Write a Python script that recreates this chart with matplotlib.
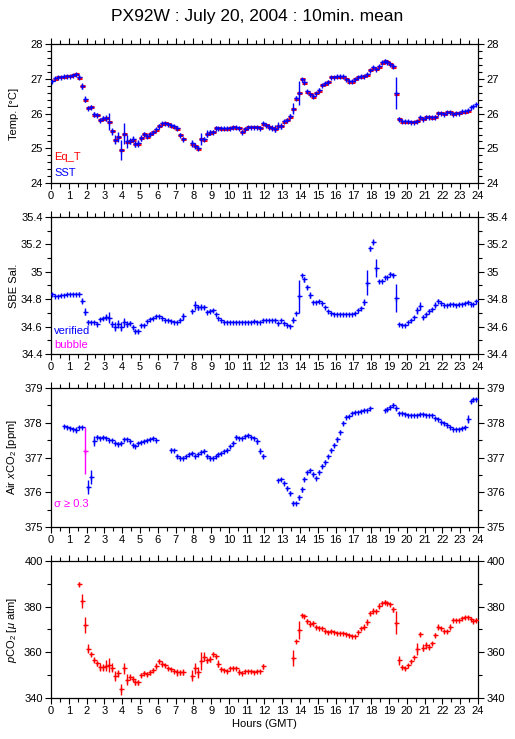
import numpy as np
import matplotlib
matplotlib.use('Agg')
import matplotlib.pyplot as plt
from matplotlib.ticker import MultipleLocator, FuncFormatter

plt.rcParams['font.family'] = ['Liberation Sans', 'DejaVu Sans']
plt.rcParams['mathtext.fontset'] = 'custom'
plt.rcParams['mathtext.rm'] = 'Liberation Sans'
plt.rcParams['mathtext.it'] = 'Liberation Sans:italic'

nan = np.nan

# --- 10-minute means, 144 per day (one row = 2 hours) ---
sst = [
    26.95, 27.03, 27.06, 27.07, 27.08, 27.09, 27.09, 27.12, 27.15, 27.06, 26.80, 26.43,
    26.18, 26.20, 25.98, 25.97, 25.83, 25.88, 25.88, 25.77, 25.50, 25.25, 25.33, 24.95,
    25.42, 25.20, 25.22, 25.27, 25.13, 25.15, 25.30, 25.42, 25.35, 25.42, 25.48, 25.55,
    25.65, 25.72, 25.73, 25.70, 25.68, 25.64, 25.58, 25.40, 25.28, nan, nan, 25.15,
    25.08, 25.00, 25.27, 25.27, 25.42, 25.47, 25.48, 25.60, 25.60, 25.58, 25.58, 25.58,
    25.60, 25.63, 25.62, 25.60, 25.48, 25.57, 25.63, 25.63, 25.62, 25.62, 25.60, 25.72,
    25.68, 25.63, 25.60, 25.57, 25.65, 25.65, 25.78, 25.82, 25.93, 26.15, 26.45, 26.60,
    27.00, 26.92, 26.65, 26.58, 26.50, 26.60, 26.68, 26.83, 26.88, 26.93, 27.07, 27.07,
    27.08, 27.08, 27.08, 27.00, 26.95, 26.95, 27.00, 27.07, 27.08, 27.10, 27.15, 27.27,
    27.35, 27.30, 27.38, 27.48, 27.53, 27.50, 27.45, 27.38, 26.60, 25.85, 25.78, 25.78,
    25.78, 25.77, 25.77, 25.80, 25.90, 25.85, 25.92, 25.92, 25.90, 25.92, 26.02, 26.02,
    26.00, 26.05, 26.05, 26.00, 26.02, 26.02, 26.07, 26.07, 26.10, 26.20, 26.23, 26.27,
]
sst_err = [
    0.03, 0.03, 0.03, 0.02, 0.02, 0.02, 0.02, 0.03, 0.03, 0.05, 0.10, 0.08,
    0.04, 0.05, 0.06, 0.06, 0.06, 0.06, 0.08, 0.25, 0.10, 0.13, 0.15, 0.28,
    0.30, 0.20, 0.08, 0.10, 0.08, 0.10, 0.08, 0.05, 0.05, 0.05, 0.03, 0.03,
    0.04, 0.03, 0.03, 0.03, 0.03, 0.03, 0.06, 0.05, 0.06, nan, nan, 0.10,
    0.08, 0.06, 0.17, 0.06, 0.10, 0.07, 0.04, 0.04, 0.03, 0.03, 0.03, 0.03,
    0.03, 0.03, 0.03, 0.03, 0.05, 0.04, 0.03, 0.03, 0.03, 0.03, 0.04, 0.04,
    0.03, 0.07, 0.07, 0.10, 0.10, 0.08, 0.05, 0.05, 0.06, 0.17, 0.06, 0.35,
    0.04, 0.06, 0.04, 0.03, 0.03, 0.04, 0.05, 0.03, 0.03, 0.03, 0.03, 0.02,
    0.02, 0.02, 0.02, 0.02, 0.02, 0.02, 0.03, 0.03, 0.03, 0.03, 0.03, 0.03,
    0.04, 0.04, 0.04, 0.04, 0.04, 0.04, 0.05, 0.07, 0.45, 0.06, 0.03, 0.03,
    0.02, 0.02, 0.02, 0.03, 0.04, 0.04, 0.03, 0.03, 0.03, 0.03, 0.03, 0.02,
    0.02, 0.03, 0.02, 0.02, 0.02, 0.02, 0.02, 0.02, 0.03, 0.03, 0.02, 0.02,
]
eq_t = [
    nan, 27.01, 27.05, 27.06, 27.07, 27.08, 27.08, 27.11, 27.14, 27.04, 26.79, 26.41,
    26.17, 26.19, 25.97, 25.95, 25.81, 25.86, 25.87, 25.76, 25.49, 25.24, 25.32, 24.94,
    25.41, 25.19, 25.21, 25.25, 25.12, 25.14, 25.29, 25.41, 25.34, 25.41, 25.47, 25.54,
    25.64, 25.71, 25.72, 25.69, 25.66, 25.62, 25.57, 25.39, 25.26, nan, nan, 25.14,
    25.06, 24.99, 25.26, 25.25, 25.41, 25.45, 25.46, 25.59, 25.59, 25.57, 25.57, 25.57,
    25.59, 25.61, 25.60, 25.59, 25.47, 25.56, 25.62, 25.62, 25.61, 25.61, 25.59, 25.70,
    25.67, 25.62, 25.59, 25.55, 25.64, 25.64, 25.77, 25.81, 25.92, 26.14, 26.43, 26.59,
    26.99, 26.90, 26.64, 26.56, 26.48, 26.59, 26.66, 26.82, 26.87, 26.92, 27.05, 27.06,
    27.07, 27.07, 27.07, 26.99, 26.93, 26.93, 26.99, 27.06, 27.07, 27.09, 27.13, 27.26,
    27.33, 27.28, 27.36, 27.47, 27.51, 27.48, 27.43, 27.36, 26.58, 25.84, 25.77, 25.77,
    25.77, 25.76, 25.76, 25.79, 25.89, 25.84, 25.91, 25.91, 25.88, 25.91, 26.01, 26.01,
    25.99, 26.04, 26.04, 25.99, 26.01, 26.01, 26.05, 26.06, 26.08, nan, nan, nan,
]
sal = [
    34.835, 34.825, 34.825, 34.83, 34.83, 34.835, 34.835, 34.84, 34.84, 34.84, 34.79, 34.71,
    34.635, 34.63, 34.63, 34.62, 34.655, 34.66, 34.67, 34.665, 34.62, 34.60, 34.62, 34.60,
    34.63, 34.62, 34.625, 34.60, 34.57, 34.57, 34.61, 34.61, 34.64, 34.655, 34.66, 34.675,
    34.68, 34.665, 34.65, 34.645, 34.64, 34.635, 34.63, 34.65, 34.675, nan, nan, 34.715,
    34.755, 34.74, 34.745, 34.745, 34.71, 34.715, 34.72, 34.69, 34.665, 34.645, 34.635, 34.635,
    34.635, 34.635, 34.635, 34.635, 34.635, 34.635, 34.635, 34.63, 34.64, 34.635, 34.635, 34.645,
    34.645, 34.645, 34.645, 34.65, 34.625, 34.645, 34.625, 34.615, 34.605, 34.65, 34.70, 34.82,
    34.975, 34.945, 34.89, 34.83, 34.78, 34.78, 34.785, 34.77, 34.745, 34.715, 34.70, 34.695,
    34.695, 34.695, 34.695, 34.695, 34.695, 34.695, 34.70, 34.72, 34.735, 34.78, 34.92, 35.17,
    35.22, 35.03, 34.93, 34.935, 34.965, 34.965, 34.985, 34.975, 34.81, 34.62, 34.61, 34.61,
    34.63, 34.65, 34.67, 34.72, 34.75, 34.67, 34.69, 34.715, 34.73, 34.76, 34.79, 34.775,
    34.755, 34.755, 34.765, 34.765, 34.76, 34.765, 34.765, 34.77, 34.78, 34.765, 34.765, 34.785,
]
sal_err = [
    0.004, 0.003, 0.003, 0.003, 0.003, 0.003, 0.003, 0.003, 0.003, 0.010, 0.020, 0.025,
    0.010, 0.006, 0.006, 0.010, 0.008, 0.010, 0.025, 0.040, 0.020, 0.030, 0.030, 0.030,
    0.030, 0.020, 0.015, 0.015, 0.015, 0.015, 0.010, 0.010, 0.010, 0.010, 0.008, 0.006,
    0.006, 0.006, 0.005, 0.004, 0.004, 0.004, 0.005, 0.010, 0.025, nan, nan, 0.015,
    0.035, 0.020, 0.020, 0.015, 0.010, 0.010, 0.010, 0.008, 0.006, 0.004, 0.003, 0.003,
    0.003, 0.003, 0.003, 0.003, 0.003, 0.003, 0.003, 0.003, 0.003, 0.003, 0.003, 0.005,
    0.005, 0.006, 0.006, 0.008, 0.012, 0.006, 0.005, 0.005, 0.005, 0.020, 0.010, 0.120,
    0.008, 0.020, 0.015, 0.020, 0.008, 0.005, 0.004, 0.004, 0.005, 0.005, 0.003, 0.003,
    0.003, 0.003, 0.003, 0.003, 0.003, 0.003, 0.003, 0.005, 0.008, 0.020, 0.090, 0.015,
    0.020, 0.065, 0.010, 0.010, 0.006, 0.006, 0.010, 0.015, 0.100, 0.008, 0.006, 0.006,
    0.006, 0.006, 0.008, 0.025, 0.030, 0.015, 0.010, 0.010, 0.008, 0.020, 0.008, 0.006,
    0.005, 0.004, 0.004, 0.004, 0.004, 0.004, 0.004, 0.005, 0.005, 0.004, 0.004, 0.006,
]
xco2 = [
    nan, nan, nan, nan, 377.92, 377.88, 377.85, 377.83, 377.80, 377.88, 377.88, 377.20,
    376.15, 376.45, 377.47, 377.60, 377.57, 377.58, 377.55, 377.50, 377.50, 377.43, 377.40, 377.42,
    377.52, 377.52, 377.47, 377.37, 377.33, 377.42, 377.45, 377.48, 377.50, 377.52, 377.55, 377.50,
    nan, nan, nan, nan, 377.23, 377.22, 377.05, 377.00, 377.00, 377.05, 377.10, 377.12,
    377.05, 377.10, 377.17, 377.20, 377.05, 376.98, 377.00, 377.05, 377.10, 377.13, 377.20, 377.22,
    377.32, 377.42, 377.58, 377.57, 377.57, 377.62, 377.65, 377.60, 377.55, 377.47, 377.20, 377.05,
    nan, nan, nan, nan, 376.35, 376.37, 376.27, 376.12, 375.98, 375.70, 375.68, 375.85,
    376.08, 376.37, 376.57, 376.63, 376.52, 376.42, 376.58, 376.75, 376.88, 377.03, 377.22, 377.37,
    377.52, 377.73, 378.00, 378.18, 378.20, 378.27, 378.30, 378.32, 378.35, 378.37, 378.38, 378.42,
    nan, nan, nan, nan, 378.37, 378.40, 378.45, 378.52, 378.42, 378.28, 378.27, 378.25,
    378.22, 378.22, 378.22, 378.22, 378.25, 378.25, 378.23, 378.23, 378.22, 378.15, 378.10, 378.03,
    377.98, 377.95, 377.88, 377.83, 377.82, 377.82, 377.85, 377.88, 378.10, 378.62, 378.68, 378.68,
]
xco2_err = [
    nan, nan, nan, nan, 0.03, 0.03, 0.02, 0.03, 0.07, 0.03, 0.03, 0.68,
    0.20, 0.20, 0.15, 0.05, 0.03, 0.03, 0.03, 0.03, 0.03, 0.05, 0.05, 0.05,
    0.05, 0.03, 0.03, 0.05, 0.03, 0.03, 0.03, 0.03, 0.03, 0.03, 0.03, 0.03,
    nan, nan, nan, nan, 0.03, 0.03, 0.06, 0.03, 0.03, 0.03, 0.04, 0.04,
    0.04, 0.04, 0.05, 0.05, 0.05, 0.05, 0.03, 0.03, 0.03, 0.03, 0.03, 0.04,
    0.04, 0.06, 0.06, 0.03, 0.03, 0.03, 0.03, 0.03, 0.03, 0.07, 0.06, 0.05,
    nan, nan, nan, nan, 0.03, 0.03, 0.04, 0.06, 0.06, 0.06, 0.03, 0.06,
    0.06, 0.06, 0.04, 0.05, 0.06, 0.05, 0.05, 0.06, 0.06, 0.05, 0.06, 0.06,
    0.06, 0.06, 0.05, 0.03, 0.03, 0.03, 0.02, 0.02, 0.02, 0.02, 0.02, 0.02,
    nan, nan, nan, nan, 0.02, 0.04, 0.06, 0.06, 0.06, 0.03, 0.02, 0.02,
    0.02, 0.02, 0.02, 0.02, 0.02, 0.02, 0.02, 0.02, 0.02, 0.03, 0.03, 0.04,
    0.04, 0.03, 0.03, 0.03, 0.02, 0.02, 0.02, 0.03, 0.12, 0.05, 0.04, 0.02,
]
pco2 = [
    nan, nan, nan, nan, nan, nan, nan, nan, nan, 390.0, 382.5, 371.8,
    361.5, 359.2, 356.8, 355.2, 353.5, 353.5, 354.2, 354.5, 353.2, 349.5, 350.8, 343.8,
    353.0, 348.0, 349.3, 348.5, 346.8, 346.8, 350.0, 351.0, 350.5, 351.2, 352.3, 354.2,
    356.2, 355.0, 354.3, 353.0, 352.5, 352.0, 351.3, 351.2, 351.3, nan, nan, 349.8,
    353.0, 351.2, 356.3, 358.0, 356.5, 357.0, 359.2, 358.2, 355.0, 352.8, 352.2, 352.0,
    353.0, 353.3, 353.2, 351.5, 351.0, 351.8, 351.8, 351.6, 351.5, 351.8, 351.8, 353.8,
    nan, nan, nan, nan, nan, nan, nan, nan, nan, 357.5, 364.8, 369.8,
    376.2, 375.8, 373.8, 372.5, 372.7, 371.3, 370.8, 370.5, 369.5, 368.8, 369.2, 368.8,
    368.5, 368.5, 368.5, 368.2, 367.5, 367.2, 367.2, 369.0, 370.5, 371.3, 373.2, 377.2,
    378.3, 378.2, 380.5, 381.8, 382.2, 381.5, 381.0, 378.8, 373.0, 356.5, 353.5, 353.0,
    354.5, 356.0, 358.0, 361.5, 368.0, 362.0, 363.0, 362.5, 364.0, 367.5, 371.3, 370.5,
    369.2, 369.2, 371.2, 374.3, 374.3, 374.3, 375.0, 375.3, 375.5, 374.8, 373.5, 374.2,
]
pco2_err = [
    nan, nan, nan, nan, nan, nan, nan, nan, nan, 1.0, 3.0, 3.5,
    2.0, 1.0, 1.2, 1.0, 1.8, 1.5, 2.5, 3.0, 2.0, 2.2, 1.5, 2.5,
    2.5, 2.5, 1.0, 1.0, 1.2, 1.2, 1.0, 1.0, 1.0, 1.0, 0.8, 1.0,
    1.0, 1.0, 0.8, 0.6, 0.6, 0.6, 1.5, 1.0, 1.2, nan, nan, 2.5,
    2.5, 2.5, 4.0, 2.0, 1.0, 1.2, 1.0, 0.8, 1.5, 0.6, 0.5, 0.5,
    0.5, 0.6, 0.5, 1.0, 0.6, 0.6, 0.5, 0.5, 0.5, 0.5, 0.5, 1.2,
    nan, nan, nan, nan, nan, nan, nan, nan, nan, 3.5, 0.5, 4.0,
    0.6, 0.6, 1.0, 1.0, 1.0, 0.8, 0.6, 0.6, 0.6, 0.6, 0.5, 0.5,
    0.5, 0.4, 0.4, 0.4, 0.4, 0.4, 0.5, 0.6, 0.8, 1.0, 1.2, 1.0,
    1.0, 0.8, 1.0, 0.6, 0.5, 0.5, 0.6, 1.2, 5.0, 2.0, 0.8, 0.6,
    0.6, 0.6, 0.6, 2.5, 1.0, 1.5, 1.5, 1.2, 0.6, 1.0, 1.2, 0.8,
    0.6, 0.6, 1.0, 0.6, 0.5, 0.5, 0.5, 0.5, 0.5, 0.6, 0.8, 0.8,
]

hours = (np.arange(144) + 0.5) / 6.0   # centre of each 10 min bin
sigma_limit = 0.3

BLUE = '#0000ff'
RED = '#ff0000'
MAGENTA = '#ff00ff'
FS = 8
MS = 3.6      # '+' marker size (pt)

fig = plt.figure(figsize=(5.15, 7.39), dpi=100)
fig.suptitle('PX92W : July 20, 2004 : 10min. mean', fontsize=12.5, y=0.988)

left, width = 0.099, 0.829
rows = [(0.7524, 0.1874), (0.521, 0.1854), (0.2869, 0.188), (0.0555, 0.1854)]
axes = [fig.add_axes([left, b, width, h]) for b, h in rows]


def crosses(ax, t, y, err, color, z=3):
    # '+' marker for the 10 min mean plus a vertical bar for its spread
    ax.errorbar(t, y, yerr=err, fmt='+', color=color, ms=MS, mew=1.0,
                ecolor=color, elinewidth=1.0, capsize=0, zorder=z)


def style(ax, ylim, major, minor, label):
    ax.set_xlim(0, 24)
    ax.set_ylim(*ylim)
    ax.xaxis.set_major_locator(MultipleLocator(1))
    ax.xaxis.set_minor_locator(MultipleLocator(0.5))
    ax.yaxis.set_major_locator(MultipleLocator(major))
    ax.yaxis.set_minor_locator(MultipleLocator(minor))
    ax.yaxis.set_major_formatter(FuncFormatter(lambda v, p: f'{v:g}'))
    ax.tick_params(which='both', direction='out', top=True, right=True,
                   labelright=True, labelsize=FS, width=0.8, pad=2)
    ax.tick_params(which='major', length=4)
    ax.tick_params(which='minor', length=3)
    ax.set_ylabel(label, fontsize=FS)
    ax.yaxis.set_label_coords(-0.075, 0.5)
    for s in ax.spines.values():
        s.set_linewidth(0.9)


# Temperature
ax = axes[0]
ax.plot(hours, eq_t, ls='none', marker='_', ms=MS, mew=2.2, color=RED, zorder=2)
crosses(ax, hours, sst, sst_err, BLUE)
style(ax, (24, 28), 1, 0.2, 'Temp. [°C]')
ax.text(0.008, 0.185, 'Eq_T', color=RED, transform=ax.transAxes, fontsize=FS, va='center')
ax.text(0.008, 0.075, 'SST', color=BLUE, transform=ax.transAxes, fontsize=FS, va='center')

# Salinity
ax = axes[1]
crosses(ax, hours, sal, sal_err, BLUE)
style(ax, (34.4, 35.4), 0.2, 0.1, 'SBE Sal.')
ax.text(0.008, 0.165, 'verified', color=BLUE, transform=ax.transAxes, fontsize=FS, va='center')
ax.text(0.008, 0.065, 'bubble', color=MAGENTA, transform=ax.transAxes, fontsize=FS, va='center')

# Air xCO2
ax = axes[2]
xv = np.asarray(xco2, float)
xe = np.asarray(xco2_err, float)
flag = xe >= sigma_limit
crosses(ax, hours[~flag], xv[~flag], xe[~flag], BLUE)
crosses(ax, hours[flag], xv[flag], xe[flag], MAGENTA)
style(ax, (375, 379), 1, 0.5, r'Air $x$CO$_2$ [ppm]')
ax.text(0.008, 0.165, 'σ ≥ 0.3', color=MAGENTA, transform=ax.transAxes, fontsize=FS, va='center')

# pCO2
ax = axes[3]
crosses(ax, hours, pco2, pco2_err, RED)
style(ax, (340, 400), 20, 10, r'$p$CO$_2$ [$\mu$ atm]')
ax.set_xlabel('Hours (GMT)', fontsize=FS, labelpad=2)

plt.savefig('out.png', dpi=100)
